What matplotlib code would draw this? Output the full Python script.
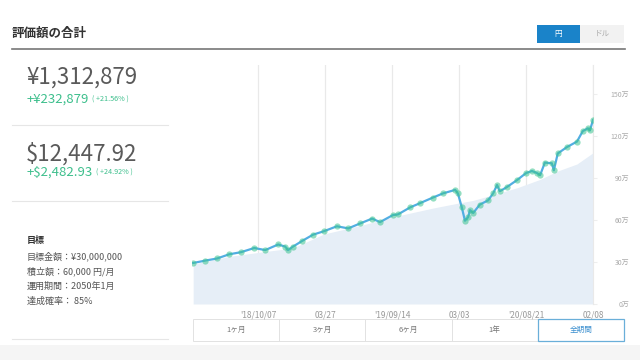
import matplotlib
matplotlib.use("Agg")
import matplotlib.pyplot as plt
from matplotlib.patches import Rectangle
import pandas as pd

plt.rcParams['font.family'] = ['Noto Sans CJK JP', 'DejaVu Sans']

# valuation (万円), days counted from start
start = pd.Timestamp('2018-04-24')
value_days = [0, 31, 61, 92, 122, 156, 184, 217, 235, 242, 255, 278, 306, 334,
              367, 396, 426, 457, 477, 510, 523, 554, 579, 612, 638, 669, 676,
              686, 694, 702, 707, 715, 732, 753, 766, 776, 783, 801, 827, 850,
              865, 878, 886, 898, 916, 921, 931, 954, 980, 995, 1008, 1013, 1021]
value = [29.3, 31.0, 32.5, 35.5, 37.0, 40.0, 38.5, 42.5, 41.0, 38.5, 41.0, 45.0,
         49.5, 52.0, 55.5, 54.0, 57.5, 61.0, 58.5, 63.5, 64.0, 69.0, 72.0, 76.0,
         79.0, 81.5, 79.0, 69.0, 59.5, 62.0, 67.0, 65.0, 71.0, 74.0, 79.0, 85.0,
         80.5, 83.5, 88.5, 93.5, 95.0, 93.5, 92.0, 101.0, 100.5, 95.5, 107.5,
         112.0, 116.0, 123.5, 125.5, 124.0, 131.3]

# principal (万円)
principal_days = [0, 92, 184, 255, 334, 426, 523, 612, 676, 715, 766, 827, 886, 931, 980, 1021]
principal = [28.5, 34.0, 37.5, 40.0, 50.0, 56.0, 63.0, 68.5, 72.0, 74.0, 78.0,
             83.0, 89.0, 95.0, 100.0, 108.0]

tick_dates = ['2018-10-07', '2019-03-27', '2019-09-14', '2020-03-03', '2020-08-21', '2021-02-08']
tick_labels = ["'18/10/07", "03/27", "'19/09/14", "03/03", "'20/08/21", "02/08"]
y_ticks = [0, 30, 60, 90, 120, 150]
y_labels = ['0万', '30万', '60万', '90万', '120万', '150万']
periods = ['1ヶ月', '3ヶ月', '6ヶ月', '1年', '全期間']

vdates = [start + pd.Timedelta(days=d) for d in value_days]
pdates = [start + pd.Timedelta(days=d) for d in principal_days]

fig = plt.figure(figsize=(6.4, 3.6), dpi=100)
W, H = 640, 360

# background / dashboard layer in pixel coords
bg = fig.add_axes([0, 0, 1, 1])
bg.set_xlim(0, W)
bg.set_ylim(H, 0)
bg.axis('off')

bg.add_patch(Rectangle((0, 345), W, 15, color='#f5f5f5', lw=0))
bg.text(12, 33, '評価額の合計', fontsize=9, fontweight='bold', color='#333333', va='center')
bg.plot([12, 625], [49, 49], color='#777777', lw=1.2)

# 円 / ドル toggle
bg.add_patch(Rectangle((537, 25), 43, 18, color='#1a83c9', lw=0))
bg.add_patch(Rectangle((580, 25), 44, 18, color='#f2f2f2', lw=0))
bg.text(558.5, 34, '円', fontsize=5.5, color='white', ha='center', va='center')
bg.text(602, 34, 'ドル', fontsize=5.5, color='#aaaaaa', ha='center', va='center')

# left summary panel
bg.text(26, 77, '¥1,312,879', fontsize=16, color='#5a5a5a', va='center')
bg.text(27, 99.5, '+¥232,879', fontsize=9.5, color='#3dbf8c', va='center')
bg.text(92, 100, '( +21.56% )', fontsize=5.2, color='#3dbf8c', va='center')
bg.plot([12, 168], [125, 125], color='#e6e6e6', lw=0.8)
bg.text(26, 153.5, '$12,447.92', fontsize=16, color='#5a5a5a', va='center')
bg.text(27, 172.5, '+$2,482.93', fontsize=9.5, color='#3dbf8c', va='center')
bg.text(96, 173, '( +24.92% )', fontsize=5.2, color='#3dbf8c', va='center')
bg.plot([12, 168], [201, 201], color='#e6e6e6', lw=0.8)
bg.text(27, 241, '目標', fontsize=6.5, fontweight='bold', color='#333333', va='center')
goal_lines = ['目標金額：¥30,000,000', '積立額：60,000 円/月', '運用期間：2050年1月', '達成確率： 85%']
for i, s in enumerate(goal_lines):
    bg.text(27, 256 + i * 15.2, s, fontsize=6.5, color='#555555', va='center')
bg.plot([12, 168], [339, 339], color='#e6e6e6', lw=0.8)

# period buttons
for i, p in enumerate(periods):
    x0 = 193 + i * 86.2
    last = i == len(periods) - 1
    bg.add_patch(Rectangle((x0, 319), 86.2, 22, fill=False,
                           ec='#6aafd9' if last else '#e2e2e2', lw=0.9 if last else 0.7))
    bg.text(x0 + 43, 330, p, fontsize=5.5, color='#3b8fcf' if last else '#777777',
            ha='center', va='center')

# chart
ax = fig.add_axes([192 / W, 1 - 304 / H, (593 - 192) / W, (304 - 65) / H])
ax.patch.set_alpha(0)
ax.fill_between(pdates, principal, 0, color='#e6eef7', lw=0, zorder=1)
ax.plot(vdates, value, color='#52aee2', lw=1.6, zorder=3)
ax.plot(vdates, value, 'o', color='#3cc48f', ms=4.5, alpha=0.55, mec='none', zorder=4)

ax.set_xlim(start - pd.Timedelta(days=3), start + pd.Timedelta(days=1021))
ax.set_ylim(0, 170.7)
ax.set_xticks(pd.to_datetime(tick_dates))
ax.set_xticklabels(tick_labels)
ax.grid(axis='x', color='#e9e9e9', lw=0.9, zorder=0)
ax.set_axisbelow(True)
ax.tick_params(axis='x', length=0, pad=5, labelsize=6, labelcolor='#999999')

ax.yaxis.tick_right()
ax.set_yticks(y_ticks)
ax.set_yticklabels(y_labels)
for lbl in ax.get_yticklabels():
    lbl.set_horizontalalignment('right')
ax.tick_params(axis='y', length=3, color='#eeeeee', pad=23, labelsize=5, labelcolor='#aaaaaa')

for s in ['top', 'left', 'bottom']:
    ax.spines[s].set_visible(False)
ax.spines['right'].set_color('#e9e9e9')

fig.savefig('out.png', dpi=100)
